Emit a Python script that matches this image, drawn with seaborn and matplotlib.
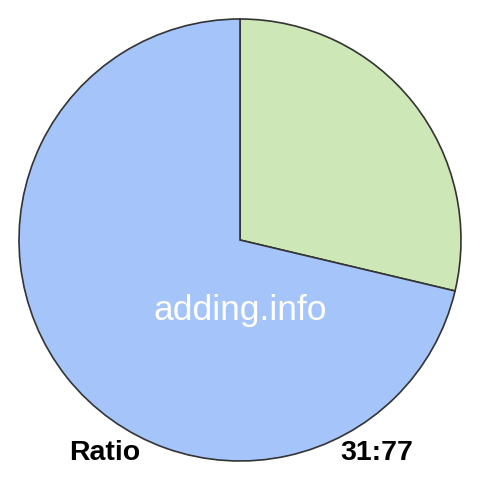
import matplotlib
matplotlib.use("Agg")
import matplotlib.pyplot as plt
import seaborn as sns

# ratio parts, green first (clockwise from the top)
labels = ["31", "77"]
values = [31, 77]
colors = ["#cde8b6", "#a5c4fa"]
ratio_text = "31:77"

sns.set_theme(style="white")
plt.rcParams["font.family"] = ["Liberation Sans", "DejaVu Sans"]

fig = plt.figure(figsize=(4.8, 4.8), dpi=100)
ax = fig.add_axes([0, 0, 1, 1])
ax.pie(values, colors=colors, startangle=90, counterclock=False,
       radius=221 / 240, center=(0, 0),
       wedgeprops=dict(edgecolor="#333333", linewidth=1.2))
ax.set_xlim(-1, 1)
ax.set_ylim(-1, 1)
ax.set_aspect("equal")
ax.axis("off")

# watermark and labels, positions in pixels from the top left
def px(x, y):
    return (x - 240) / 240, (240 - y) / 240

ax.text(*px(240, 320), "adding.info", color="white", fontsize=25.5,
        ha="center", va="baseline")
ax.text(*px(69, 460), "Ratio", color="black", fontsize=20.5,
        fontweight="bold", ha="left", va="baseline")
ax.text(*px(413, 460), ratio_text, color="black", fontsize=20.5,
        fontweight="bold", ha="right", va="baseline")

fig.savefig("out.png", dpi=100, facecolor="white")
